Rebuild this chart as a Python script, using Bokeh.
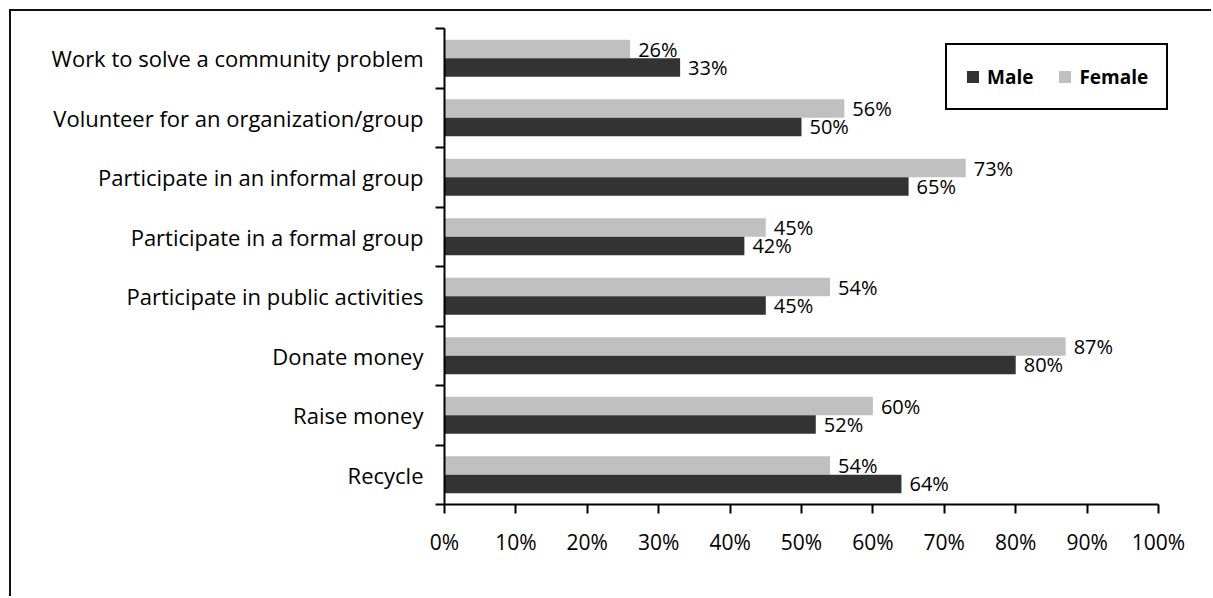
from bokeh.plotting import figure
from bokeh.models import ColumnDataSource, FixedTicker, Range1d, Legend, LegendItem
from bokeh.core.properties import value
from bokeh.embed import file_html
from bokeh.resources import INLINE

# ---- data (bottom to top) ----
categories = [
    "Recycle",
    "Raise money",
    "Donate money",
    "Participate in public activities",
    "Participate in a formal group",
    "Participate in an informal group",
    "Volunteer for an organization/group",
    "Work to solve a community problem",
]
male = [64, 52, 80, 45, 42, 65, 50, 33]
female = [54, 60, 87, 54, 45, 73, 56, 26]
x_ticks = [0, 10, 20, 30, 40, 50, 60, 70, 80, 90, 100]
series_names = ["Male", "Female"]
MALE_COLOR = "#333333"
FEMALE_COLOR = "#c0c0c0"

BAR_H = 0.31
centers = [i + 0.5 for i in range(len(categories))]

male_src = ColumnDataSource(dict(
    y=[c - BAR_H / 2 for c in centers], val=male,
    label=[f"{v}%" for v in male]))
female_src = ColumnDataSource(dict(
    y=[c + BAR_H / 2 for c in centers], val=female,
    label=[f"{v}%" for v in female]))

# frame: left at 444px, 100% at 1158px; frame extended to 1175px so the legend fits
FRAME_W = 731
X_END = 100 * FRAME_W / 714

p = figure(width=1202, height=587, output_backend="svg", toolbar_location=None,
           x_range=Range1d(0, X_END), y_range=Range1d(0, len(categories)),
           min_border_left=433, min_border_right=38, min_border_top=17,
           min_border_bottom=94)
p.styles = {"margin-left": "9px", "margin-top": "9px",
            "border-left": "2px solid #111111", "border-top": "2px solid #111111"}
p.outline_line_color = None
p.xgrid.visible = False
p.ygrid.visible = False
p.background_fill_color = "white"
p.border_fill_color = "white"

r_f = p.hbar(y="y", left=0, right="val", height=BAR_H, source=female_src,
             fill_color=FEMALE_COLOR, line_color=None)
r_m = p.hbar(y="y", left=0, right="val", height=BAR_H, source=male_src,
             fill_color=MALE_COLOR, line_color=None)

for src in (female_src, male_src):
    p.text(x="val", y="y", text="label", source=src, x_offset=8,
           text_baseline="middle", text_align="left",
           text_font=value("Open Sans"), text_font_size="20px",
           text_color="#000000")

# x axis
xa = p.xaxis[0]
xa.bounds = (0, 100)
xa.ticker = FixedTicker(ticks=x_ticks)
xa.major_label_overrides = {t: f"{t}%" for t in x_ticks}
xa.major_label_text_font = "Open Sans"
xa.major_label_text_font_size = "21px"
xa.major_label_text_color = "#000000"
xa.major_label_standoff = 14
xa.major_tick_out = 9
xa.major_tick_in = 0
xa.major_tick_line_width = 2
xa.major_tick_line_color = "#000000"
xa.minor_tick_line_color = None
xa.axis_line_width = 2
xa.axis_line_color = "#000000"

# y axis: labels at centers, ticks at boundaries (minor ticks)
ya = p.yaxis[0]
ya.ticker = FixedTicker(ticks=centers, minor_ticks=list(range(len(categories) + 1)))
ya.major_label_overrides = {c: name for c, name in zip(centers, categories)}
ya.major_label_text_font = "Open Sans"
ya.major_label_text_font_size = "22px"
ya.major_label_text_color = "#000000"
ya.major_tick_line_color = None
ya.major_tick_out = 0
ya.major_tick_in = 0
ya.major_label_standoff = 12
ya.minor_tick_out = 9
ya.minor_tick_in = 0
ya.minor_tick_line_width = 2
ya.minor_tick_line_color = "#000000"
ya.axis_line_width = 2
ya.axis_line_color = "#000000"

legend = Legend(items=[LegendItem(label=series_names[0], renderers=[r_m]),
                       LegendItem(label=series_names[1], renderers=[r_f])],
                location=(501, 394), orientation="horizontal",
                label_text_font="Open Sans", label_text_font_style="bold",
                label_text_font_size="19px", label_text_color="#000000",
                glyph_width=15, glyph_height=15, label_standoff=7, spacing=24,
                padding=18, label_height=27, margin=0,
                border_line_color="#000000", border_line_width=2,
                border_line_alpha=1.0,
                background_fill_color="white", background_fill_alpha=1.0)
p.add_layout(legend)

open("out.html", "w").write(file_html(p, INLINE))
